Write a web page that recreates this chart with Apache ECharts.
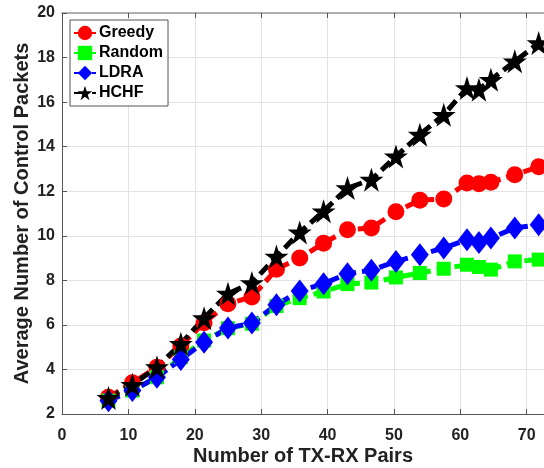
<!DOCTYPE html>
<html>
<head>
<meta charset="utf-8">
<script src="https://cdn.jsdelivr.net/npm/echarts@6/dist/echarts.min.js"></script>
<style>
html,body{margin:0;padding:0;background:#fff;}
#chart{width:544px;height:468px;}
</style>
</head>
<body>
<div id="chart"></div>
<script>
// Data
const pairs = [7, 10.6, 14.3, 17.9, 21.4, 25, 28.6, 32.3, 35.8, 39.4, 43, 46.6, 50.3, 53.9, 57.5, 61, 62.8, 64.6, 68.2, 71.8];
const greedy = [2.75, 3.4, 4.1, 5.05, 6.1, 6.95, 7.25, 8.5, 9.0, 9.67, 10.27, 10.35, 11.08, 11.6, 11.65, 12.37, 12.34, 12.4, 12.74, 13.1];
const random = [2.6, 3.05, 3.65, 4.55, 5.3, 5.85, 6.05, 6.85, 7.2, 7.5, 7.83, 7.9, 8.13, 8.33, 8.52, 8.7, 8.6, 8.48, 8.85, 8.93];
const ldra = [2.6, 3.05, 3.65, 4.45, 5.22, 5.86, 6.08, 6.9, 7.52, 7.85, 8.3, 8.45, 8.85, 9.15, 9.45, 9.82, 9.7, 9.9, 10.35, 10.5];
const hchf = [2.72, 3.31, 4.1, 5.15, 6.3, 7.4, 7.88, 9.07, 10.15, 11.1, 12.14, 12.52, 13.56, 14.54, 15.43, 16.63, 16.56, 17.0, 17.83, 18.65];
const seriesNames = ['Greedy', 'Random', 'LDRA', 'HCHF'];
const xTicks = [0, 10, 20, 30, 40, 50, 60, 70];
const yTicks = [2, 4, 6, 8, 10, 12, 14, 16, 18, 20];

const starPath = 'path://M50,0 L61.2,34.5 L97.6,34.5 L68.2,55.9 L79.4,90.5 L50,69.1 L20.6,90.5 L31.8,55.9 L2.4,34.5 L38.8,34.5 Z';
const font = 'Liberation Sans';

function mk(name, vals, color, symbol, size) {
  return {
    name: name,
    type: 'line',
    data: pairs.map((x, i) => [x, vals[i]]),
    symbol: symbol,
    symbolSize: size,
    showSymbol: true,
    lineStyle: { color: color, width: 5, type: [12, 6] },
    itemStyle: { color: color, borderWidth: 0 },
    animation: false
  };
}

const chart = echarts.init(document.getElementById('chart'), null, { renderer: 'canvas' });
chart.setOption({
  animation: false,
  backgroundColor: '#ffffff',
  textStyle: { fontFamily: font },
  grid: { left: 62, top: 13, right: 0, bottom: 54, containLabel: false, outerBoundsMode: 'none' },
  legend: {
    left: 70, top: 20,
    orient: 'vertical',
    data: seriesNames,
    itemWidth: 22, itemHeight: 18, itemGap: 4,
    padding: [5, 5, 5, 3],
    borderColor: '#555', borderWidth: 1, backgroundColor: '#fff',
    textStyle: { fontFamily: font, fontWeight: 'bold', fontSize: 16, color: '#000', padding: [0, 0, 0, -2] }
  },
  xAxis: [{
    type: 'value', min: 0, max: 72.6, interval: 10,
    name: 'Number of TX-RX Pairs', nameLocation: 'middle', nameGap: 32, nameMoveOverlap: false,
    nameTextStyle: { fontFamily: font, fontWeight: 'bold', fontSize: 20, color: '#222' },
    axisLine: { show: true, lineStyle: { color: '#555', width: 1 } },
    axisTick: { show: true, inside: true, length: 5, lineStyle: { color: '#555' } },
    axisLabel: { fontFamily: font, fontWeight: 'bold', fontSize: 16, color: '#222', margin: 14, showMaxLabel: false,
      formatter: v => xTicks.indexOf(v) >= 0 ? String(v) : '' },
    splitLine: { show: true, lineStyle: { color: '#e3e3e3', width: 1 } }
  }, {
    type: 'value', min: 0, max: 72.6, interval: 10, position: 'top',
    axisLine: { show: true, lineStyle: { color: '#999', width: 1.5 } },
    axisTick: { show: true, inside: true, length: 5, lineStyle: { color: '#555' } },
    axisLabel: { show: false },
    splitLine: { show: false }
  }],
  yAxis: {
    type: 'value', min: 2, max: 20, interval: 2,
    name: 'Average Number of Control Packets', nameLocation: 'middle', nameGap: 30, nameMoveOverlap: false,
    nameTextStyle: { fontFamily: font, fontWeight: 'bold', fontSize: 20, color: '#222' },
    axisLine: { show: true, lineStyle: { color: '#555', width: 1 } },
    axisTick: { show: true, inside: true, length: 5, lineStyle: { color: '#555' } },
    axisLabel: { fontFamily: font, fontWeight: 'bold', fontSize: 16, color: '#222', margin: 7,
      formatter: v => yTicks.indexOf(v) >= 0 ? String(v) : '' },
    splitLine: { show: true, lineStyle: { color: '#e3e3e3', width: 1 } }
  },
  series: [
    mk(seriesNames[0], greedy, '#ff0000', 'circle', 17),
    mk(seriesNames[1], random, '#00ff00', 'rect', 14),
    mk(seriesNames[2], ldra, '#0000ff', 'diamond', [18, 23]),
    mk(seriesNames[3], hchf, '#000000', starPath, 24)
  ]
});
</script>
</body>
</html>
